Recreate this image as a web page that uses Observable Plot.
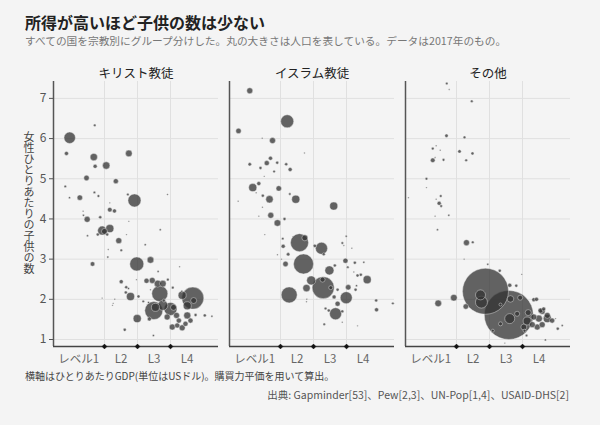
<!DOCTYPE html>
<html><head><meta charset="utf-8">
<script src="https://cdn.jsdelivr.net/npm/d3@7"></script>
<script src="https://cdn.jsdelivr.net/npm/@observablehq/plot@0.6"></script>
<style>
html,body{margin:0;padding:0;background:#f4f4f4;}
#wrap{position:relative;width:600px;height:425px;font-family:"Noto Sans CJK JP","Noto Sans",sans-serif;background:#f4f4f4;overflow:hidden;}
#title{position:absolute;left:25px;top:12px;font-size:16px;line-height:20px;font-weight:bold;color:#222;white-space:nowrap;}
#subtitle{position:absolute;left:25px;top:34px;font-size:10.7px;line-height:14px;color:#777;white-space:nowrap;}
#chart{position:absolute;left:0;top:58px;}
#ylabel{position:absolute;left:22px;top:131px;width:13px;height:143px;font-size:11px;line-height:13px;color:#444;writing-mode:vertical-rl;text-orientation:upright;white-space:nowrap;}
#caption{position:absolute;left:25px;top:369px;font-size:10px;line-height:14px;color:#444;white-space:nowrap;}
#source{position:absolute;right:31px;top:388px;font-size:10.5px;line-height:14px;color:#555;white-space:nowrap;}
</style></head>
<body>
<div id="wrap">
  <div id="title"></div>
  <div id="subtitle"></div>
  <div id="chart"></div>
  <div id="ylabel"></div>
  <div id="caption"></div>
  <div id="source"></div>
</div>
<script>
const titleText = "所得が高いほど子供の数は少ない";
const subtitleText = "すべての国を宗教別にグループ分けした。丸の大きさは人口を表している。データは2017年のもの。";
const captionText = "横軸はひとりあたりGDP(単位はUSドル)。購買力平価を用いて算出。";
const sourceText = "出典: Gapminder[53]、Pew[2,3]、UN-Pop[1,4]、USAID-DHS[2]";
const yLabelText = "女性ひとりあたりの子供の数";

const religions = ["キリスト教徒", "イスラム教徒", "その他"];
const levelBounds = [2000, 8000, 32000];
const levelTickValues = [680, 4000, 16000, 64000];
const levelLabels = ["レベル1", "L2", "L3", "L4"];
const yTicks = [1, 2, 3, 4, 5, 6, 7];

// [GDP per capita (USD, PPP), children per woman, population (millions)]
const christian = [[464,6.02,77],[1330,6.33,3.4],[405,5.63,9.5],[1276,5.54,32],[1350,5.31,9.5],[2150,5.33,32],[5560,5.63,26],[940,5.02,17],[3220,4.94,15],[385,4.81,3.4],[460,4.53,2.4],[710,4.53,17],[1310,4.66,3.4],[1550,4.57,4],[7050,4.46,100],[5330,4.61,3.4],[28200,4.61,1.5],[2500,4.40,1.2],[2500,4.23,12.5],[3040,4.20,9.5],[815,4.19,1.2],[826,4.09,2.4],[966,3.99,21],[1670,4.04,5.3],[2500,3.76,38],[1815,3.71,48],[1510,3.61,5.3],[2240,3.61,5.3],[2000,3.69,21],[5560,3.94,1.2],[5040,3.61,1.2],[980,3.58,2.4],[3640,3.46,21],[20800,3.73,2.4],[11060,3.36,2.4],[4040,3.22,3.4],[2340,3.24,1.2],[2300,3.05,2.4],[7760,2.88,116],[13800,2.98,26],[1210,2.88,12.5],[19000,2.69,2.4],[46800,2.81,1.2],[4040,2.44,9.5],[7670,2.49,1.2],[11680,2.46,15],[14840,2.47,21],[18700,2.39,29],[23160,2.39,26],[28600,2.49,4],[4980,2.30,5.3],[5480,2.27,2.4],[20400,2.14,151],[5960,2.07,38],[4900,2.17,5.3],[8340,2.07,5.3],[10180,1.95,3.4],[12700,1.92,2.4],[1815,2.03,1.2],[3080,2.0,1.2],[2880,1.90,1.2],[2800,1.85,1.2],[81600,2.03,286],[52200,2.10,38],[15860,1.72,192],[32000,1.76,100],[23160,1.85,59],[64600,1.84,38],[84600,1.97,21],[7900,1.52,38],[13140,1.51,9.5],[27800,1.56,21],[41200,1.60,21],[64600,1.60,29],[91600,1.61,5.3],[34400,1.31,21],[52200,1.29,21],[42400,1.35,15],[60000,1.39,15],[74000,1.47,15],[45400,1.47,15],[182000,1.58,2.4],[135000,1.60,5.3],[4680,1.24,5.3],[15600,1.10,2.4],[13800,2.24,1.2],[24200,1.97,5.3],[51400,2.20,2.4],[35200,2.29,4],[17000,1.80,38],[36300,1.80,21]];

const muslim = [[550,7.19,21],[2650,6.43,100],[343,6.19,17],[928,6.01,1.2],[1430,5.95,21],[5480,5.64,1.2],[1314,5.51,9.5],[550,5.36,6.8],[863,5.27,5.3],[1124,5.39,15],[1740,5.40,5.3],[2540,5.36,5.3],[3000,5.23,9.5],[1530,5.18,3.4],[1010,5.06,1.2],[624,4.78,38],[804,4.88,9.5],[1860,4.76,17],[720,4.65,1.2],[952,4.58,5.3],[1260,4.49,32],[2960,4.62,3.4],[3800,4.49,38],[338,4.44,1.2],[18700,4.32,38],[938,4.29,1.2],[804,4.07,1.2],[1330,4.09,21],[1760,3.90,26],[2366,4.0,5.3],[1034,3.61,1.2],[4440,3.41,192],[11200,3.27,85],[8460,3.33,6.8],[2200,3.51,3.4],[2240,3.32,9.5],[31600,3.57,2.4],[26800,3.40,3.4],[28600,3.34,1.2],[40000,3.27,1.2],[2760,3.12,6.8],[1760,3.11,1.2],[2085,3.0,1.2],[2470,2.88,17],[5260,2.88,237],[12300,3.12,5.3],[15600,2.72,48],[19600,2.84,5.3],[30600,2.96,15],[45400,2.91,5.3],[66200,2.92,2.4],[33800,2.80,3.4],[43400,2.68,1.2],[50800,2.59,5.3],[58400,2.61,5.3],[76200,2.49,38],[7260,2.47,48],[12000,2.29,286],[5960,2.28,32],[2880,2.11,151],[22000,2.24,5.3],[34400,2.30,17],[46800,2.24,5.3],[48700,2.34,2.4],[19000,2.06,9.5],[31600,2.04,85],[22000,1.89,15],[6040,2.0,1.2],[5960,1.94,1.2],[13260,1.77,4],[15200,1.72,5.3],[20200,1.64,85],[26800,1.70,5.3],[12540,1.38,3.4],[26800,1.43,1.2],[50800,1.34,1.2],[111000,1.97,5.3],[112900,1.74,9.5],[224000,1.90,3.4],[5560,3.53,21],[11700,2.49,15],[16500,2.29,9.5]];

const other = [[1330,7.37,3.4],[1470,7.22,1.2],[3800,6.93,4],[1314,6.07,6.8],[2800,6.03,4],[738,5.75,4],[852,5.82,1.2],[1010,5.71,1.2],[2270,5.68,6.8],[3916,5.63,5.3],[738,5.46,12.5],[815,5.53,1.2],[1160,5.47,4],[3000,5.46,4],[567,5.0,4],[567,4.78,1.2],[266,4.53,1.2],[1034,4.57,4],[852,4.49,1.2],[966,4.39,9.5],[1050,4.32,4],[1450,4.09,2.4],[815,4.07,1.2],[900,3.73,2.4],[3040,3.41,21],[3960,3.42,4],[2760,3.0,1.2],[7440,2.87,2.4],[12300,2.71,5.3],[31000,2.62,1.2],[6760,2.20,1250],[18700,2.35,9.5],[24600,2.34,5.3],[19300,2.01,26],[928,1.90,26],[1790,2.04,26],[2960,1.82,17],[18000,1.61,1420],[5480,2.11,59],[5700,1.93,85],[18700,1.52,59],[25500,1.64,15],[29000,2.04,15],[51400,1.99,9.5],[57600,2.0,9.5],[40600,1.67,21],[73000,1.70,21],[90600,1.52,38],[63600,1.52,29],[51400,1.56,21],[59400,1.31,21],[73000,1.37,21],[48200,1.37,21],[90600,1.60,21],[111000,1.47,15],[78000,1.76,9.5],[128000,1.52,1.2],[140600,1.27,5.3],[169600,1.35,2.4],[83600,0.99,2.4],[37900,1.10,3.4],[34800,1.22,5.3],[15200,0.91,1.2],[9200,1.22,5.3],[12700,1.39,9.5],[38800,1.46,38],[33800,1.31,21],[68200,1.72,15],[12700,1.87,5.3]];

const groups = [christian, muslim, other];
const table = groups.flatMap((arr, gi) => arr.map(([gdp, fert, pop]) => ({rel: religions[gi], gdp, fert, pop})));
const xTickTable = levelTickValues.map((v, i) => ({v, label: levelLabels[i]}));

const xDomain = [235, 240000];
const yDomain = [0.826, 7.42];

document.getElementById("title").textContent = titleText;
document.getElementById("subtitle").textContent = subtitleText;
document.getElementById("ylabel").textContent = yLabelText;
document.getElementById("caption").textContent = captionText;
document.getElementById("source").textContent = sourceText;

const chart = Plot.plot({
  width: 600,
  height: 310,
  marginLeft: 53,
  marginRight: 30,
  marginTop: 23,
  marginBottom: 22,
  style: {background: "transparent", fontFamily: "'Noto Sans CJK JP', sans-serif"},
  fx: {domain: religions, paddingInner: 0.0625, paddingOuter: 0},
  x: {type: "log", domain: xDomain, axis: null},
  y: {domain: yDomain},
  r: {type: "sqrt", domain: [0, 1480], range: [0, 25]},
  marks: [
    Plot.gridY(yTicks, {stroke: "#e0e0e0", strokeOpacity: 1, strokeWidth: 1}),
    Plot.gridX(levelBounds, {stroke: "#e0e0e0", strokeOpacity: 1, strokeWidth: 1}),
    Plot.ruleX([xDomain[0]], {stroke: "#555", strokeWidth: 1.5}),
    Plot.ruleY([yDomain[0]], {stroke: "#444", strokeWidth: 1.5}),
    Plot.dot(table, {
      x: "gdp", y: "fert", r: "pop", fx: "rel",
      fill: "#333", fillOpacity: 0.76,
      stroke: "#e8e8e8", strokeWidth: 0.6, strokeOpacity: 0.75
    }),
    Plot.dot(levelBounds, {x: d => d, y: () => yDomain[0], symbol: "diamond2", r: 2.2, fill: "#111", stroke: "#111", strokeWidth: 0.5}),
    Plot.axisY(yTicks, {anchor: "left", tickSize: 4, tickPadding: 3, fontSize: 12, color: "#555", stroke: "#555", label: null}),
    Plot.text(xTickTable, {x: "v", text: "label", frameAnchor: "bottom", dy: 13, fontSize: 11.5, fill: "#666", lineAnchor: "middle"}),
    Plot.axisFx({anchor: "top", tickSize: 0, tickPadding: 4, fontSize: 12.5, color: "#222", label: null})
  ]
});
document.getElementById("chart").appendChild(chart);
</script>
</body></html>
